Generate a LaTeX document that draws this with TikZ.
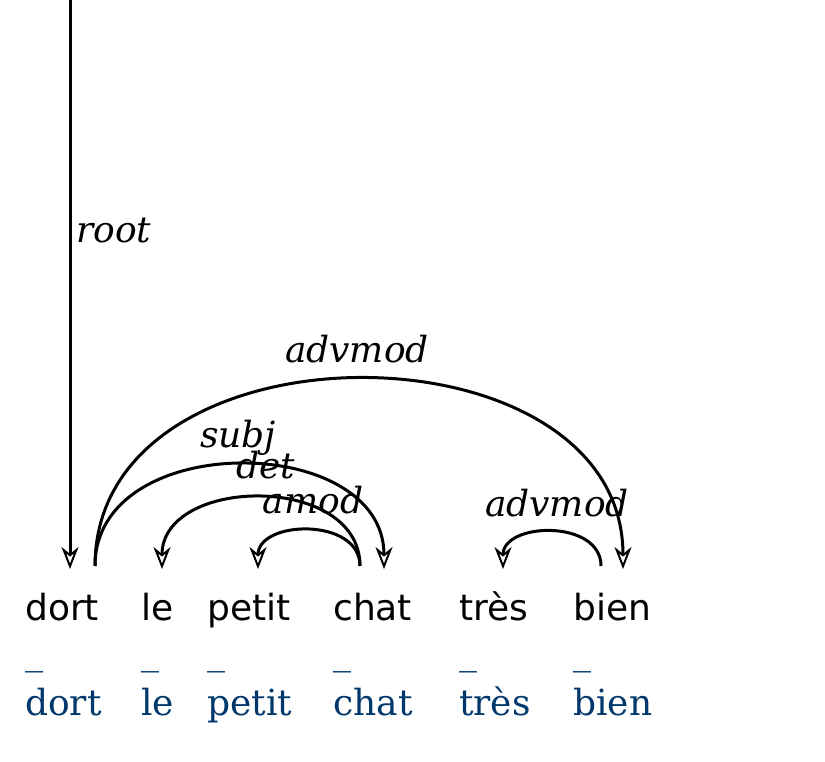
\documentclass[tikz,border=0pt]{standalone}
\usepackage{fontspec}
\setmainfont{DejaVu Serif}
\setsansfont{DejaVu Sans}
\usepackage{tikz}
\usetikzlibrary{arrows.meta}
\definecolor{lemmablue}{HTML}{00386B}

\begin{document}
\begin{tikzpicture}[x=1pt,y=-1pt]

\tikzset{word/.style={anchor=base west, inner sep=0pt,
    font=\sffamily\fontsize{36}{40}\selectfont},
  lemma/.style={word, font=\rmfamily\fontsize{36}{40}\selectfont, text=lemmablue},
  deprel/.style={anchor=base, inner sep=0pt, font=\itshape\fontsize{36}{40}\selectfont},
  deparc/.style={line width=3pt,
    -{Stealth[open, length=22pt, width=17pt, inset=7pt, line width=2pt]}}
}
\useasboundingbox (0,0) rectangle (825,762);
\foreach \n/\x/\t in {dort/25/dort, le/141/le, petit/207/petit,
  chat/333/chat, tres/459/très, bien/573/bien}{
  \node[word] (\n) at (\x,620) {\t};
  \node[lemma] (\n-u) at (\x,664) {\_};
  \node[lemma] (\n-l) at (\x,715) {\t};}
\coordinate (top) at (70,0);
\coordinate (dort-i) at (70,569); \coordinate (dort-o) at (95,566);
\coordinate (le-i) at (162,569); \coordinate (petit-i) at (258,569);
\coordinate (chat-o) at (360,566); \coordinate (chat-i) at (384,569);
\coordinate (tres-i) at (503,569);
\coordinate (bien-o) at (601,566); \coordinate (bien-i) at (623,569);
\draw[deparc] (top) -- (dort-i);
\draw[deparc] (dort-o) .. controls +(0,-251) and +(0,-251) .. (bien-i);
\draw[deparc] (dort-o) .. controls +(0,-137) and +(0,-137) .. (chat-i);
\draw[deparc] (chat-o) .. controls +(0,-93) and +(0,-93) .. (le-i);
\draw[deparc] (chat-o) .. controls +(0,-49) and +(0,-49) .. (petit-i);
\draw[deparc] (bien-o) .. controls +(0,-47) and +(0,-47) .. (tres-i);
\node[deprel, anchor=base west] (root) at (76,243) {root};
\node[deprel] (advmod-a) at (357,362) {advmod};
\node[deprel] (subj) at (238,447) {subj};
\node[deprel] (det) at (266,478) {det};
\node[deprel] (amod) at (313,513) {amod};
\node[deprel] (advmod-b) at (557,516) {advmod};
\end{tikzpicture}
\end{document}
